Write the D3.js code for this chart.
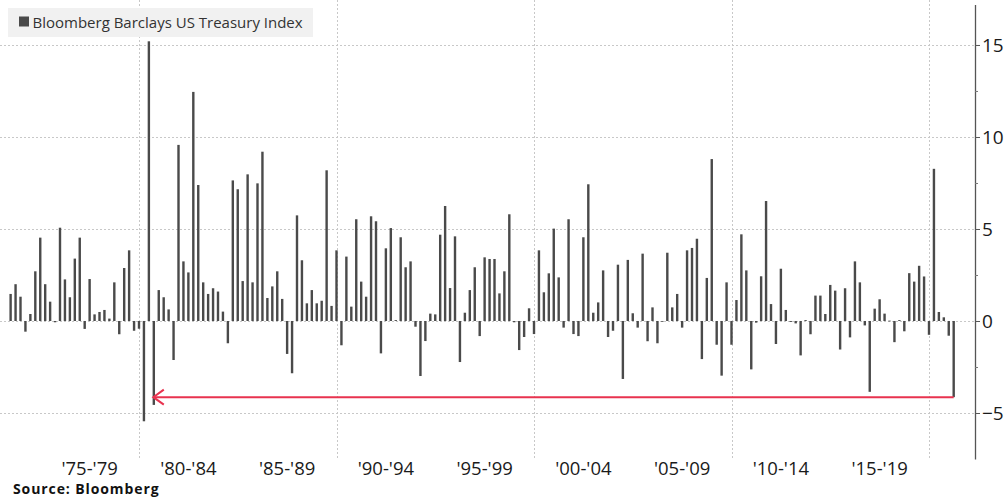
<!DOCTYPE html>
<html>
<head>
<meta charset="utf-8">
<script src="https://cdn.jsdelivr.net/npm/d3@7"></script>
<style>
  body { margin: 0; background: #fff; }
  text { font-family: "Open Sans", sans-serif; }
</style>
</head>
<body>
<script>
// quarterly total return, %, first bar = 1973 Q2, last bar = 2021 Q1
const firstYear = 1973, firstQuarter = 2;
const returns = [
  1.47, 2.0, 1.32, -0.58, 0.38, 2.7, 4.53, 2.0, 1.05, -0.07,
  5.07, 2.26, 1.29, 3.39, 4.53, -0.43, 2.28, 0.36, 0.49, 0.6,
  0.13, 2.1, -0.72, 2.88, 3.84, -0.53, -0.42, -5.45, 15.2, -4.56,
  1.68, 1.29, 0.63, -2.12, 9.57, 3.24, 2.64, 12.45, 7.39, 2.1,
  1.47, 1.78, 1.6, 0.51, -1.21, 7.64, 7.16, 2.17, 7.97, 2.1,
  7.48, 9.2, 1.25, 1.88, 2.7, 1.2, -1.79, -2.84, 5.74, 3.3,
  0.96, 1.68, 0.96, 1.1, 8.19, 0.82, 3.84, -1.32, 3.5, 0.78,
  5.53, 2.14, 1.32, 5.69, 5.42, -1.76, 3.95, 5.05, 0.05, 4.55,
  2.92, 3.24, -0.31, -2.99, -1.09, 0.4, 0.36, 4.69, 6.25, 1.79,
  4.6, -2.23, 0.45, 1.68, 2.92, -0.82, 3.46, 3.37, 3.37, 1.5,
  2.7, 5.8, -0.07, -1.58, -0.87, 0.69, -0.71, 3.84, 1.56, 2.59,
  5.02, 2.37, -0.36, 5.53, -0.71, -0.82, 4.55, 7.43, 0.45, 1.01,
  2.75, -0.87, -0.53, 3.06, -3.15, 3.32, 0.42, -0.36, 3.66, -1.1,
  0.74, -1.21, -0.03, 3.71, 0.74, 1.47, -0.36, 3.84, 3.97, 4.47,
  -2.07, 2.34, 8.8, -1.29, -2.97, 2.1, -1.29, 1.14, 4.71, 2.75,
  -2.63, -0.09, 2.43, 6.52, 0.92, -1.25, 2.84, 0.6, -0.05, -0.13,
  -1.87, 0.05, -0.72, 1.38, 1.38, 0.38, 1.96, 1.65, -1.55, 1.78,
  -0.89, 3.24, 2.1, -0.24, -3.85, 0.67, 1.18, 0.4, 0.02, -1.15,
  0.05, -0.56, 2.6, 2.14, 3.0, 2.42, -0.75, 8.27, 0.49, 0.2,
  -0.8, -4.14
];
const decadeLines = [1980, 1990, 2000, 2010, 2020];
const periodStarts = [1975, 1980, 1985, 1990, 1995, 2000, 2005, 2010, 2015];
const periodLabels = ["'75-'79", "'80-'84", "'85-'89", "'90-'94", "'95-'99", "'00-'04", "'05-'09", "'10-'14", "'15-'19"];
const yTicks = [-5, 0, 5, 10, 15];
const yMinorTicks = [-2.5, 2.5, 7.5, 12.5];
const seriesName = "Bloomberg Barclays US Treasury Index";
const sourceText = "Source: Bloomberg";

const width = 1005;
const height = 499;
const axisX = 975;
const barColor = "#4a4a4a";
const red = "#e8334f";

// quarter end as a decimal year (Q1 -> .25, Q4 -> next year)
let data = returns.map((v, i) => {
  let n = firstQuarter - 1 + i;
  return { t: firstYear + Math.floor(n / 4) + ((n % 4) + 1) / 4, value: v };
});

let x = d3.scaleLinear()
  .domain([1972.962, 2022.329])
  .range([0, axisX]);

let y = d3.scaleLinear()
  .domain([-7.5, 17.2])
  .range([459, 4.5]);

let svg = d3.select("body")
  .append("svg")
    .attr("width", width)
    .attr("height", height);

// GRID
svg.append("g")
  .selectAll("line")
  .data(yTicks)
  .enter()
  .append("line")
    .attr("x1", 0)
    .attr("x2", axisX)
    .attr("y1", d => Math.round(y(d)) + 0.5)
    .attr("y2", d => Math.round(y(d)) + 0.5)
    .attr("stroke", "#c8c8c8")
    .attr("stroke-dasharray", "2,2");

svg.append("g")
  .selectAll("line")
  .data(decadeLines)
  .enter()
  .append("line")
    .attr("x1", d => Math.round(x(d)) + 0.5)
    .attr("x2", d => Math.round(x(d)) + 0.5)
    .attr("y1", 0)
    .attr("y2", 459)
    .attr("stroke", "#c8c8c8")
    .attr("stroke-dasharray", "2,2");

// BARS
svg.append("g")
  .selectAll("rect")
  .data(data)
  .enter()
  .append("rect")
    .attr("x", d => x(d.t) - 1.2)
    .attr("width", 2.4)
    .attr("y", d => Math.min(y(d.value), y(0)))
    .attr("height", d => Math.max(0.8, Math.abs(y(d.value) - y(0))))
    .attr("fill", barColor);

// ARROW from the latest quarter back to the last quarter that was as bad
let last = data[data.length - 1];
let prev = null;
for (let i = data.length - 2; i >= 0; i--) {
  if (data[i].value <= last.value) { prev = data[i]; break; }
}
let ay = y(last.value);
let tip = x(prev.t) - 0.5;
svg.append("path")
  .attr("d", `M${x(last.t)},${ay}H${tip}`)
  .attr("stroke", red)
  .attr("stroke-width", 2)
  .attr("fill", "none");
svg.append("path")
  .attr("d", `M${tip + 10.5},${ay - 7.5}L${tip},${ay}L${tip + 10.5},${ay + 7.5}`)
  .attr("stroke", red)
  .attr("stroke-width", 2)
  .attr("fill", "none");

// Y AXIS
let yAxis = d3.axisRight(y)
  .tickValues(yTicks)
  .tickSize(5)
  .tickSizeOuter(0)
  .tickPadding(2)
  .tickFormat(d3.format("d"));

let yAxisG = svg.append("g")
  .attr("transform", `translate(${axisX},0)`)
  .call(yAxis);
yAxisG.select(".domain").attr("stroke", "#555").attr("stroke-width", 1.3);
yAxisG.selectAll(".tick line").attr("stroke", "#555");
yAxisG.selectAll("text")
  .attr("font-family", "Open Sans")
  .attr("font-size", 19)
  .attr("fill", "#1a1a1a");

svg.append("g")
  .attr("transform", `translate(${axisX},0)`)
  .call(d3.axisRight(y).tickValues(yMinorTicks).tickSize(3).tickFormat(""))
  .call(g => g.select(".domain").remove())
  .selectAll(".tick line").attr("stroke", "#777");

// X LABELS
svg.append("g")
  .selectAll("text")
  .data(periodStarts)
  .enter()
  .append("text")
    .attr("x", d => x(d + 2.5))
    .attr("y", 475)
    .attr("text-anchor", "middle")
    .attr("font-size", 18.5)
    .attr("fill", "#1a1a1a")
    .text((d, i) => periodLabels[i]);

// LEGEND
let legend = svg.append("g");
legend.append("rect")
  .attr("x", 8)
  .attr("y", 8)
  .attr("width", 305)
  .attr("height", 29)
  .attr("fill", "#f1f1f1");
legend.append("rect")
  .attr("x", 19)
  .attr("y", 16.5)
  .attr("width", 10)
  .attr("height", 10)
  .attr("fill", barColor);
legend.append("text")
  .attr("x", 32.5)
  .attr("y", 27.5)
  .attr("font-size", 15)
  .attr("fill", "#333")
  .text(seriesName);

// SOURCE
svg.append("text")
  .attr("x", 13)
  .attr("y", 494)
  .attr("font-family", "DejaVu Sans")
  .attr("font-weight", "bold")
  .attr("font-size", 14)
  .attr("letter-spacing", 0.9)
  .attr("fill", "#111")
  .text(sourceText);
</script>
</body>
</html>
